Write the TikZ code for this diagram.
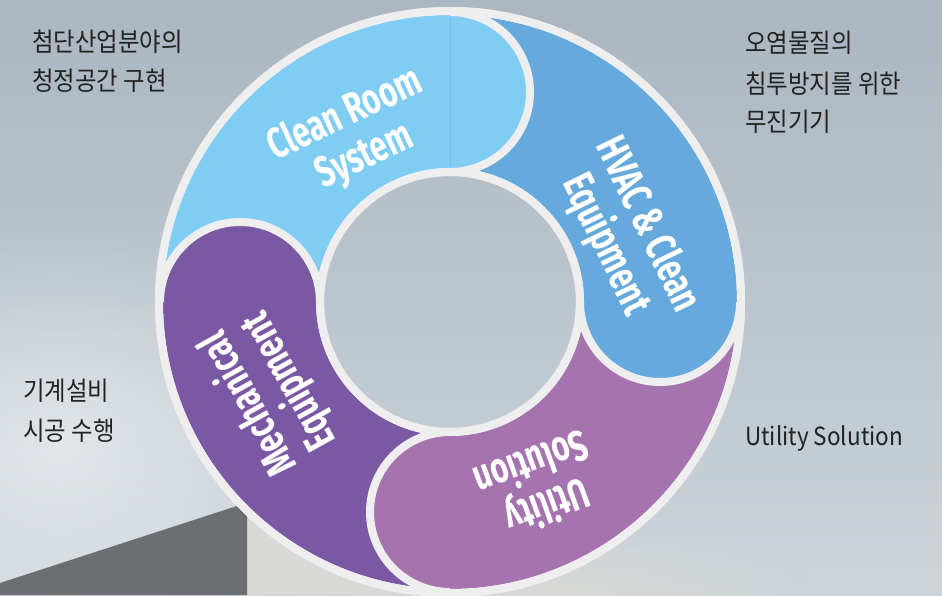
\documentclass[tikz,border=0pt]{standalone}
\usepackage{fontspec}
\newfontfamily\krfont[FakeStretch=0.9]{Noto Sans CJK KR}
\newfontfamily\labfont[FakeStretch=0.71]{Fira Sans}
\usetikzlibrary{fadings}
\tikzfading[name=softblob, inner color=transparent!0, outer color=transparent!100]
\definecolor{bgtop}{HTML}{ABB6C0}
\definecolor{bgbot}{HTML}{CDD4DA}
\definecolor{boxdark}{HTML}{6B6F72}
\definecolor{colbg}{HTML}{D8D9D5}
\definecolor{ringgray}{HTML}{EEEEEE}
\definecolor{cleanc}{HTML}{7FCDF2}
\definecolor{hvacc}{HTML}{66A9DC}
\definecolor{utilc}{HTML}{A574AF}
\definecolor{mechc}{HTML}{7B58A3}
\definecolor{seamc}{HTML}{70BFE8}
\definecolor{txtc}{HTML}{222222}
\tikzset{
  desc/.style={anchor=base west, inner sep=0pt, text=txtc, font=\krfont\fontsize{26}{30}\selectfont},
  descl/.style={anchor=base west, inner sep=0pt, text=txtc, font=\krfont\fontsize{25}{30}\selectfont},
  seglabel/.style={text=white, align=center, inner sep=0pt, font=\labfont\bfseries\fontsize{43}{46}\selectfont},
  capline/.style={ringgray, line width=8pt},
}
\newcommand\ringseg[3]{\fill[#1] (#2:287pt) arc[start angle=#2, end angle=#3, radius=287pt] -- (#3:134pt) arc[start angle=#3, end angle=#2, radius=134pt] -- cycle;}
\newcommand\ringcap[2]{\fill[#1] (#2:290pt) arc[start angle=#2, end angle={#2-180}, radius=80pt] -- cycle;
  \draw[capline] (#2:290pt) arc[start angle=#2, end angle={#2-180}, radius=80pt];}
\begin{document}
\begin{tikzpicture}[x=1pt,y=1pt]
\useasboundingbox (0,0) rectangle (942,595);
% background
\shade[top color=bgtop, bottom color=bgbot] (0,0) rectangle (942,595);
\fill[white, fill opacity=0.5, path fading=softblob] (60,150) ellipse (300pt and 220pt);
\fill[colbg, path fading=softblob] (560,0) ellipse (260pt and 70pt);
\fill[colbg] (247,0) rectangle (470,90);
\fill[boxdark] (0,0) -- (0,12) -- (240,90) -- (247,89) -- (247,0) -- cycle;
% ring
\begin{scope}[shift={(450,293)}]
  \fill[ringgray, even odd rule] (0,0) circle (295pt) (0,0) circle (126pt);
  \ringseg{cleanc}{180}{90}
  \ringseg{hvacc}{90}{0}
  \ringseg{utilc}{0}{-90}
  \ringseg{mechc}{-90}{-180}
  \ringcap{cleanc}{90}
  \ringcap{hvacc}{0}
  \ringcap{utilc}{-90}
  \ringcap{mechc}{-180}
  \draw[seamc, line width=0.8pt] (90:136pt) -- (90:285pt);
  \draw[capline] (0,0) circle (291pt);
  \draw[capline] (0,0) circle (130pt);
\end{scope}
% segment labels
\node[seglabel, rotate=25] (lclean) at (355,459) {Clean Room\\System};
\node[seglabel, rotate=-64] (lhvac) at (626,360) {HVAC \& Clean\\Equipment};
\node[seglabel, rotate=200] (lutil) at (540,108) {Utility\\Solution};
\node[seglabel, rotate=119] (lmech) at (269,203) {Mechanical\\Equipment};
% descriptions
\node[desc] (t1a) at (32,543) {첨단산업분야의};
\node[desc] (t1b) at (32,504) {청정공간 구현};
\node[desc] (t2a) at (745,542) {오염물질의};
\node[desc] (t2b) at (745,501) {침투방지를 위한};
\node[desc] (t2c) at (745,463) {무진기기};
\node[desc] (t3a) at (23,195) {기계설비};
\node[desc] (t3b) at (23,155) {시공 수행};
\node[descl] (t4) at (745,150) {Utility Solution};
\end{tikzpicture}
\end{document}
